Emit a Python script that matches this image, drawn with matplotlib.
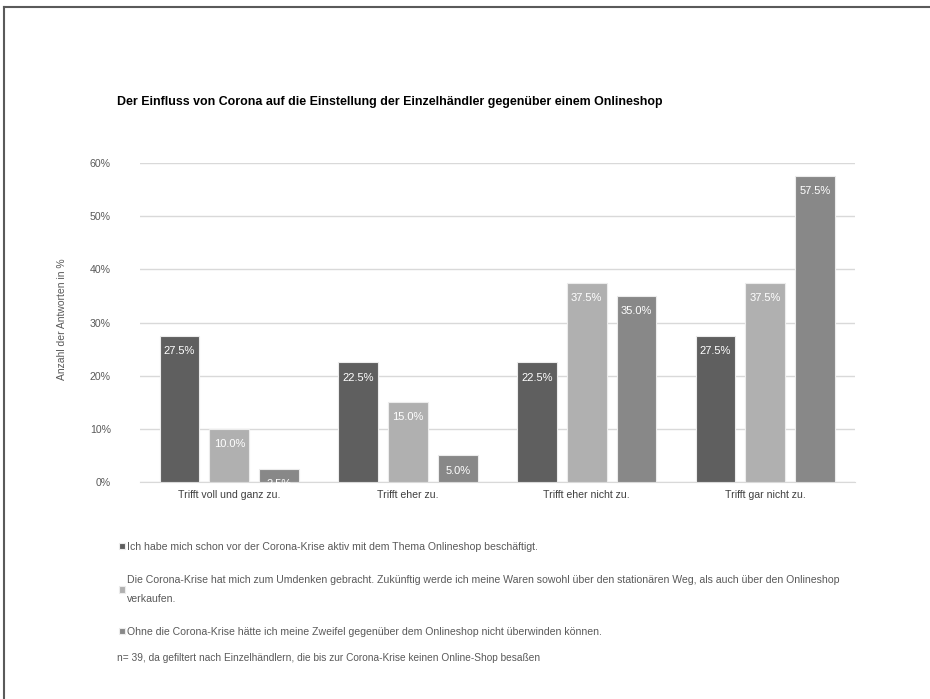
import numpy as np
import matplotlib
matplotlib.use("Agg")
import matplotlib.pyplot as plt
from matplotlib.ticker import PercentFormatter
from matplotlib.lines import Line2D

plt.rcParams['font.family'] = ['Liberation Sans', 'DejaVu Sans']

# Antwortkategorien und Anteile je Aussage (in %)
categories = ["Trifft voll und ganz zu.", "Trifft eher zu.",
              "Trifft eher nicht zu.", "Trifft gar nicht zu."]
series_labels = [
    "Ich habe mich schon vor der Corona-Krise aktiv mit dem Thema Onlineshop beschäftigt.",
    "Die Corona-Krise hat mich zum Umdenken gebracht. Zukünftig werde ich meine Waren sowohl über den stationären Weg, als auch über den Onlineshop\nverkaufen.",
    "Ohne die Corona-Krise hätte ich meine Zweifel gegenüber dem Onlineshop nicht überwinden können.",
]
vorher = [27.5, 22.5, 22.5, 27.5]
umdenken = [10.0, 15.0, 37.5, 37.5]
ohne_krise = [2.5, 5.0, 35.0, 57.5]
colors = ["#5f5f5f", "#b0b0b0", "#888888"]

title = "Der Einfluss von Corona auf die Einstellung der Einzelhändler gegenüber einem Onlineshop"
ylabel = "Anzahl der Antworten in %"
note = "n= 39, da gefiltert nach Einzelhändlern, die bis zur Corona-Krise keinen Online-Shop besaßen"

fig = plt.figure(figsize=(9.3, 6.99), dpi=100)
ax = fig.add_axes([0.1505, 0.3104, 0.7685, 0.4564])

x = np.arange(len(categories))
width = 0.223
step = 0.279
bars = []
for i, (vals, col, lab) in enumerate(zip([vorher, umdenken, ohne_krise], colors, series_labels)):
    b = ax.bar(x + (i - 1) * step, vals, width, color=col, edgecolor="#ececec",
               linewidth=0.8, label=lab, zorder=3)
    ax.bar_label(b, fmt="{:.1f}%", padding=-14.5, color="white", fontsize=8)
    bars.append(b)

ax.set_xlim(-0.5, len(categories) - 0.5)
ax.set_ylim(0, 60)
ax.set_yticks(np.arange(0, 61, 10))
ax.yaxis.set_major_formatter(PercentFormatter(xmax=100, decimals=0))
ax.set_xticks(x)
ax.set_xticklabels(categories)
ax.grid(axis="y", color="#d9d9d9", linewidth=1, zorder=0)
for s in ["top", "right", "left"]:
    ax.spines[s].set_visible(False)
ax.spines["bottom"].set_color("#d9d9d9")
ax.tick_params(axis="both", length=0, labelsize=7.6, colors="#595959")
ax.tick_params(axis="y", pad=21)
ax.tick_params(axis="x", pad=6, labelcolor="#404040")

fig.text(62 / 930, 1 - 319 / 699, ylabel, rotation=90, ha="center", va="center",
         fontsize=7.5, color="#595959")
fig.text(117 / 930, 1 - 102 / 699, title, ha="left", va="center",
         fontsize=8.9, fontweight="bold", color="black")

leg = fig.legend(handles=bars, labels=series_labels, loc="upper left",
                 bbox_to_anchor=(119 / 930, 1 - 542 / 699), frameon=False,
                 fontsize=7.6, labelcolor="#595959", handlelength=0.55,
                 handleheight=0.55, handletextpad=0.25, labelspacing=2.15,
                 borderaxespad=0, borderpad=0)
for t in leg.get_texts():
    t.set_linespacing(2.15)
fig.text(117 / 930, 1 - 658 / 699, note, ha="left", va="center",
         fontsize=7.3, color="#595959")

# Rahmen oben und links
fig.add_artist(Line2D([4 / 930, 1], [1 - 6.5 / 699] * 2, color="#5a5a5a", linewidth=1.5))
fig.add_artist(Line2D([4 / 930] * 2, [0, 1 - 6.5 / 699], color="#5a5a5a", linewidth=1.5))

fig.savefig("out.png", dpi=100, facecolor="white")
